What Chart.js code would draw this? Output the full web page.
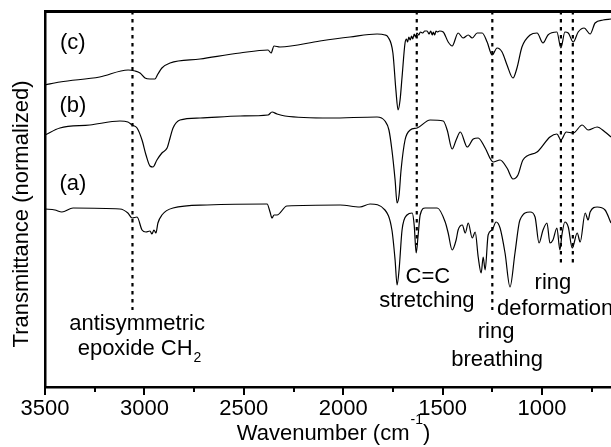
<!DOCTYPE html>
<html>
<head>
<meta charset="utf-8">
<script src="https://cdn.jsdelivr.net/npm/chart.js@4.4.1/dist/chart.umd.min.js"></script>
<style>
  html, body { margin: 0; padding: 0; background: #fff; }
</style>
</head>
<body>
<canvas id="ftirChart" width="611" height="447"></canvas>
<script>
// wavenumbers (cm-1) and normalized transmittance (offset per spectrum)
const waveA = [3500, 3450, 3415, 3359, 3123, 3083, 3062, 3037, 3012, 2992, 2972, 2962, 2952, 2942, 2932, 2912, 2856, 2685,
  2383, 2368, 2358, 2348, 2333, 2283, 2016, 1916, 1865, 1790, 1755, 1739, 1729, 1719, 1704, 1679, 1653, 1643, 1633, 1623,
  1613, 1588, 1527, 1487, 1472, 1452, 1432, 1422, 1401, 1386, 1371, 1351, 1336, 1321, 1306, 1296, 1286, 1271, 1251, 1231,
  1211, 1186, 1161, 1136, 1111, 1060, 1035, 1015, 995, 975, 960, 945, 925, 910, 900, 885, 868, 848, 823, 808, 783, 768,
  758, 723, 683, 653];
const transA = [178, 177, 175, 179, 178, 174, 169, 170, 157, 155, 156, 153, 157, 154, 164, 172, 179, 182,
  183, 175, 169, 172, 172, 181, 182, 180, 183, 177, 157, 127, 102, 117, 157, 172, 174, 162, 134, 152,
  172, 179, 179, 165, 154, 137, 147, 157, 162, 154, 164, 149, 155, 130, 114, 130, 117, 152, 157, 165,
  159, 134, 100, 134, 167, 175, 170, 144, 157, 164, 144, 147, 159, 137, 152, 165, 160, 139, 154, 145, 174, 167,
  175, 180, 177, 164];

const waveB = [3500, 3425, 3274, 3123, 3083, 3062, 3037, 3012, 2992, 2972, 2957, 2937, 2912, 2886, 2871, 2856, 2821, 2720,
  2519, 2378, 2358, 2333, 2293, 2066, 1830, 1790, 1770, 1755, 1739, 1729, 1719, 1709, 1689, 1663, 1628, 1563, 1497, 1477,
  1452, 1432, 1411, 1376, 1346, 1321, 1286, 1246, 1211, 1176, 1146, 1121, 1096, 1025, 960, 925, 905, 878, 843, 798, 768,
  723, 683, 653];
const transB = [252, 259, 262, 266, 265, 262, 259, 247, 232, 221, 220, 227, 234, 239, 249, 259, 267, 269,
  271, 272, 275, 273, 271, 269, 270, 266, 257, 237, 207, 184, 192, 217, 247, 257, 259, 267, 266, 257,
  238, 247, 255, 240, 248, 249, 239, 225, 227, 219, 208, 212, 227, 235, 250, 253, 247, 255, 254, 262, 257,
  260, 255, 250];

const waveC = [3500, 3425, 3225, 3082, 3047, 3022, 2997, 2972, 2947, 2932, 2912, 2871, 2720, 2519, 2378, 2363, 2348, 2318,
  2117, 1966, 1830, 1790, 1775, 1750, 1735, 1724, 1714, 1704, 1689, 1682, 1676, 1670, 1663, 1656, 1650, 1643, 1636, 1629,
  1620, 1612, 1600, 1590, 1578, 1568, 1560, 1552, 1547, 1540, 1533, 1527, 1515, 1497, 1472, 1452, 1422, 1397, 1371, 1351,
  1326, 1301, 1276, 1251, 1226, 1201, 1176, 1146, 1126, 1101, 1060, 1025, 995, 970, 925, 905, 885, 868, 843, 818, 788,
  758, 733, 693, 653];
const transC = [302, 305, 310, 317, 316, 314, 309, 308, 308, 313, 319, 324, 328, 334, 337, 334, 341, 340,
  346, 350, 353, 352, 350, 334, 297, 277, 287, 310, 344, 348, 345, 350, 347, 351, 348, 353, 350, 354,
  352, 355, 354, 356, 356, 353, 356, 352, 355, 352, 356, 355, 356, 355, 345, 341, 354, 349, 352, 349,
  354, 354, 345, 332, 339, 335, 322, 309, 319, 340, 352, 354, 344, 352, 355, 339, 355, 354, 345, 355, 359,
  353, 364, 367, 368];

// marked bands: wavenumber and where the dotted line stops
const bandWaves = [3060, 1630, 1250, 905, 845];
const bandEnds = [77, 142, 77, 124, 124];

const panelLabels = ['(a)', '(b)', '(c)'];
const xTickValues = [3500, 3000, 2500, 2000, 1500, 1000];
const xMinorTicks = [3250, 2750, 2250, 1750, 1250, 750];

const FONT = '"Liberation Sans", Arial, Helvetica, sans-serif';
const TOP = 376;

const toPoints = (w, t) => w.map((v, i) => ({ x: v, y: t[i] }));

const spectrum = (label, w, t) => ({
  label: label,
  data: toPoints(w, t),
  borderColor: '#000',
  borderWidth: 1.2,
  pointRadius: 0,
  cubicInterpolationMode: 'monotone',
  xAxisID: 'x',
  yAxisID: 'y'
});

const bandLines = bandWaves.map((w, i) => ({
  label: 'band ' + w,
  data: [{ x: w, y: TOP }, { x: w, y: bandEnds[i] }],
  borderColor: '#000',
  borderWidth: 2.2,
  borderDash: [3.5, 4.5],
  pointRadius: 0,
  xAxisID: 'x',
  yAxisID: 'y'
}));

const overlay = {
  id: 'overlay',
  afterDraw(chart) {
    const { ctx, chartArea: area, scales: { x, y } } = chart;
    ctx.save();
    ctx.strokeStyle = '#000';
    ctx.fillStyle = '#000';

    // outward tick marks on the wavenumber axis
    ctx.lineWidth = 2;
    ctx.beginPath();
    xTickValues.forEach(v => {
      const px = Math.round(x.getPixelForValue(v));
      ctx.moveTo(px, area.bottom);
      ctx.lineTo(px, area.bottom + 8);
    });
    xMinorTicks.forEach(v => {
      const px = Math.round(x.getPixelForValue(v));
      ctx.moveTo(px, area.bottom);
      ctx.lineTo(px, area.bottom + 5);
    });
    ctx.stroke();

    ctx.font = '22px ' + FONT;
    ctx.textBaseline = 'alphabetic';
    ctx.textAlign = 'center';

    // (a) (b) (c)
    const labelY = [197, 275, 338];
    panelLabels.forEach((t, i) => {
      ctx.fillText(t, x.getPixelForValue(3360), y.getPixelForValue(labelY[i]));
    });

    // band annotations
    ctx.fillText('antisymmetric', x.getPixelForValue(3037), y.getPixelForValue(57));
    ctx.fillText('C=C', x.getPixelForValue(1574), y.getPixelForValue(104));
    ctx.fillText('stretching', x.getPixelForValue(1579), y.getPixelForValue(80));
    ctx.fillText('ring', x.getPixelForValue(945), y.getPixelForValue(98));
    ctx.fillText('ring', x.getPixelForValue(1231), y.getPixelForValue(49));
    ctx.fillText('breathing', x.getPixelForValue(1226), y.getPixelForValue(21));
    ctx.textAlign = 'left';
    ctx.fillText('deformation', x.getPixelForValue(1226), y.getPixelForValue(72));

    // epoxide CH2 with subscript
    const main = 'epoxide CH';
    const mw = ctx.measureText(main).width;
    ctx.font = '14px ' + FONT;
    const sw = ctx.measureText('2').width;
    const sx = x.getPixelForValue(3027) - (mw + sw) / 2;
    const by = y.getPixelForValue(32);
    ctx.font = '22px ' + FONT;
    ctx.fillText(main, sx, by);
    ctx.font = '14px ' + FONT;
    ctx.fillText('2', sx + mw + 1, by + 7);

    // x axis title with superscript
    ctx.font = '22px ' + FONT;
    const t1 = 'Wavenumber (cm';
    const w1 = ctx.measureText(t1).width;
    const w3 = ctx.measureText(')').width;
    ctx.font = '14px ' + FONT;
    const w2 = ctx.measureText('-1').width;
    const tx = (area.left + area.right) / 2 + 5 - (w1 + w2 + w3) / 2;
    const ty = area.bottom + 53;
    ctx.font = '22px ' + FONT;
    ctx.fillText(t1, tx, ty);
    ctx.font = '14px ' + FONT;
    ctx.fillText('-1', tx + w1 + 1, ty - 16);
    ctx.font = '22px ' + FONT;
    ctx.fillText(')', tx + w1 + w2 + 1, ty);

    // y axis title
    ctx.translate(area.left - 23, y.getPixelForValue(173));
    ctx.rotate(-Math.PI / 2);
    ctx.textAlign = 'center';
    ctx.textBaseline = 'middle';
    ctx.fillText('Transmittance (normalized)', 0, 0);
    ctx.restore();
  }
};

new Chart(document.getElementById('ftirChart').getContext('2d'), {
  type: 'line',
  data: {
    datasets: [
      ...bandLines,
      spectrum('(a)', waveA, transA),
      spectrum('(b)', waveB, transB),
      spectrum('(c)', waveC, transC)
    ]
  },
  options: {
    responsive: false,
    animation: false,
    layout: { padding: { top: 11, right: 0, bottom: 0, left: 0 } },
    plugins: {
      legend: { display: false },
      tooltip: { enabled: false }
    },
    scales: {
      x: {
        type: 'linear',
        position: 'bottom',
        reverse: true,
        min: 653,
        max: 3500,
        grid: { display: false, drawTicks: false },
        border: { display: true, color: '#000', width: 2.5 },
        ticks: {
          color: '#000',
          font: { family: FONT, size: 22 },
          padding: 9,
          maxRotation: 0,
          autoSkip: false,
          callback: v => String(v)
        },
        afterBuildTicks: s => { s.ticks = xTickValues.map(v => ({ value: v })); },
        afterFit: s => { s.height = 60; }
      },
      x2: {
        type: 'linear',
        position: 'top',
        reverse: true,
        min: 653,
        max: 3500,
        grid: { display: false, drawTicks: false },
        ticks: { display: false },
        border: { display: true, color: '#000', width: 3 },
        afterFit: s => { s.height = 0; }
      },
      y: {
        type: 'linear',
        min: 0,
        max: TOP,
        grid: { display: false, drawTicks: false },
        ticks: { display: false },
        border: { display: true, color: '#000', width: 2.5 },
        afterFit: s => { s.width = 45; }
      }
    }
  },
  plugins: [overlay]
});
</script>
</body>
</html>
